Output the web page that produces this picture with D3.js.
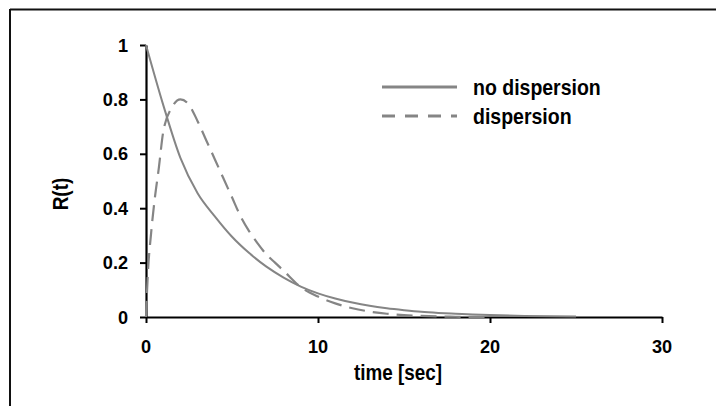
<!DOCTYPE html>
<html>
<head>
<meta charset="utf-8">
<script src="https://cdn.jsdelivr.net/npm/d3@7"></script>
<style>
  html, body { margin: 0; padding: 0; background: #fff; }
  svg { display: block; }
  text { font-family: "Liberation Sans", Arial, sans-serif; font-weight: bold; fill: #000; }
</style>
</head>
<body>
<script>
// ---- data ----
const xTicks = [0, 10, 20, 30];
const yTicks = [0, 0.2, 0.4, 0.6, 0.8, 1];
const yTickLabels = ["0", "0.2", "0.4", "0.6", "0.8", "1"];
const seriesNames = ["no dispersion", "dispersion"];

const noDispT = [0, 1, 2, 3, 4, 5, 6, 7, 8, 9, 10, 11, 12, 13, 14, 15, 16, 17, 18, 19, 20, 22, 25];
const noDispR = [1, 0.78, 0.585, 0.455, 0.37, 0.295, 0.235, 0.185, 0.145, 0.112, 0.087, 0.068, 0.053, 0.041, 0.032, 0.025, 0.019, 0.015, 0.012, 0.009, 0.007, 0.004, 0.002];

const dispT = [0, 0.1, 0.3, 0.5, 0.75, 1.0, 1.5, 2.0, 2.5, 3.0, 3.5, 4.0, 4.5, 5.0, 5.5, 6.0, 6.5, 7.0, 7.5, 8.0, 9, 10, 11, 12, 13, 14, 15, 16, 18, 20];
const dispR = [0, 0.15, 0.31, 0.43, 0.55, 0.68, 0.77, 0.80, 0.78, 0.72, 0.65, 0.58, 0.51, 0.44, 0.37, 0.315, 0.27, 0.23, 0.2, 0.17, 0.11, 0.075, 0.05, 0.032, 0.02, 0.012, 0.007, 0.004, 0.001, 0];

const W = 716, H = 406;
const svg = d3.select("body").append("svg").attr("width", W).attr("height", H);
svg.append("rect").attr("width", W).attr("height", H).attr("fill", "#fff");

// frame (top and left edges only visible)
svg.append("line").attr("x1", 10).attr("x2", W).attr("y1", 9.5).attr("y2", 9.5).attr("stroke", "#111").attr("stroke-width", 2);
svg.append("line").attr("x1", 10).attr("x2", 10).attr("y1", 9).attr("y2", H).attr("stroke", "#111").attr("stroke-width", 2);

const x = d3.scaleLinear().domain([0, 30]).range([146, 662]);
const y = d3.scaleLinear().domain([0, 1]).range([317, 45]);

// axes
const xAxis = svg.append("g").attr("transform", `translate(0,${y(0)})`)
  .call(d3.axisBottom(x).tickValues(xTicks).tickSize(6).tickSizeOuter(0).tickFormat(""));
const yAxis = svg.append("g").attr("transform", `translate(${x(0)},0)`)
  .call(d3.axisLeft(y).tickValues(yTicks).tickSize(6).tickSizeOuter(0).tickFormat(""));
[xAxis, yAxis].forEach(g => {
  g.select(".domain").attr("stroke", "#000").attr("stroke-width", 2.2);
  g.selectAll(".tick line").attr("stroke", "#000").attr("stroke-width", 2);
});

// tick labels
xTicks.forEach(v => {
  svg.append("text")
    .attr("transform", `translate(${x(v)},353) scale(1.1,1.12)`)
    .attr("text-anchor", "middle").attr("font-size", 16.5).text(d3.format("d")(v));
});
yTicks.forEach((v, i) => {
  svg.append("text")
    .attr("transform", `translate(128,${y(v) + 6.5}) scale(1.1,1.12)`)
    .attr("text-anchor", "end").attr("font-size", 16.5).text(yTickLabels[i]);
});

// axis titles
svg.append("text")
  .attr("transform", `translate(398,380) scale(1.02,1.15)`)
  .attr("text-anchor", "middle").attr("font-size", 18.5).text("time [sec]");
svg.append("text")
  .attr("transform", `translate(68,194) rotate(-90) scale(1,1.2)`)
  .attr("text-anchor", "middle").attr("font-size", 19).text("R(t)");

// curves
const line = d3.line().x(d => x(d[0])).y(d => y(d[1])).curve(d3.curveMonotoneX);
const noDisp = noDispT.map((t, i) => [t, noDispR[i]]);
const disp = dispT.map((t, i) => [t, dispR[i]]);

svg.append("path").datum(disp).attr("d", line)
  .attr("fill", "none").attr("stroke", "#858585").attr("stroke-width", 2.2)
  .attr("stroke-dasharray", "16,8");
svg.append("path").datum(noDisp).attr("d", line)
  .attr("fill", "none").attr("stroke", "#858585").attr("stroke-width", 2);

// legend
const legY = [87, 116];
const dashes = [null, "13,10"];
seriesNames.forEach((name, i) => {
  const l = svg.append("line").attr("x1", 382).attr("x2", 457)
    .attr("y1", legY[i]).attr("y2", legY[i])
    .attr("stroke", "#858585").attr("stroke-width", 3);
  if (dashes[i]) l.attr("stroke-dasharray", dashes[i]);
  svg.append("text")
    .attr("transform", `translate(473,${legY[i] + 7.5}) scale(1,1.15)`)
    .attr("font-size", 19.5).text(name);
});
</script>
</body>
</html>
